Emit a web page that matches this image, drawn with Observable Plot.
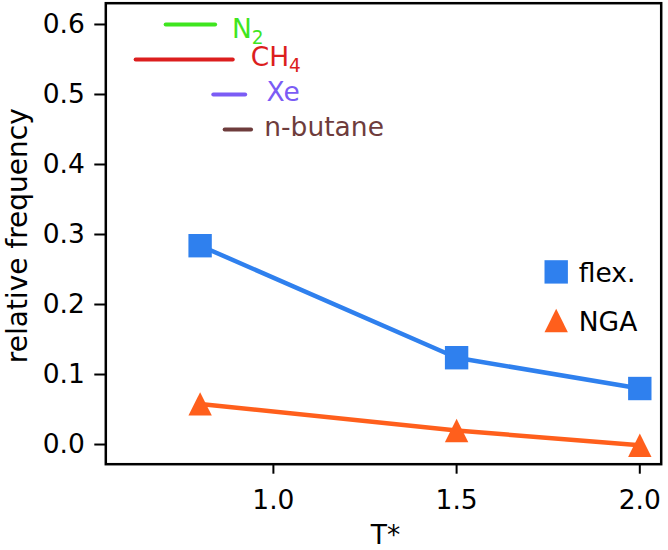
<!DOCTYPE html>
<html>
<head>
<meta charset="utf-8">
<script src="https://cdn.jsdelivr.net/npm/d3@7"></script>
<script src="https://cdn.jsdelivr.net/npm/@observablehq/plot@0.6"></script>
<style>
  body { margin: 0; background: #fff; }
</style>
</head>
<body>
<div id="chart"></div>
<script>
// ---- data ----
const temperatures = [0.8, 1.5, 2.0];
const flexValues = [0.284, 0.124, 0.080];
const ngaValues = [0.058, 0.020, -0.001];
const xTicks = [1.0, 1.5, 2.0];
const yTicks = [0.0, 0.1, 0.2, 0.3, 0.4, 0.5, 0.6];
const speciesNames = ["N₂", "CH₄", "Xe", "n-butane"];
const speciesStart = [0.706, 0.624, 0.836, 0.867];
const speciesEnd = [0.841, 0.889, 0.923, 0.939];
const speciesLevel = [0.60, 0.55, 0.50, 0.45];
const speciesLabelX = [0.887, 0.938, 0.981, 0.975];
const speciesLabelY = [0.593, 0.553, 0.503, 0.453];
const seriesNames = ["flex.", "NGA"];
const xLabel = "T*";
const yLabel = "relative frequency";

// ---- styles ----
const speciesColors = ["#3fe51f", "#dc1e1e", "#7b5cf5", "#6e3c3c"];
const flexColor = "#2f80ee";
const ngaColor = "#ff5f1c";
const markerR = 13.2;
const triangleUp = {
  draw(ctx, size) {
    const h = Math.sqrt(size) / 2;
    ctx.moveTo(0, -h);
    ctx.lineTo(h, h);
    ctx.lineTo(-h, h);
    ctx.closePath();
  }
};

const flexRows = temperatures.map((t, i) => ({t, v: flexValues[i]}));
const ngaRows = temperatures.map((t, i) => ({t, v: ngaValues[i]}));
const speciesRows = speciesNames.map((name, i) => ({
  name, x1: speciesStart[i], x2: speciesEnd[i], y: speciesLevel[i],
  lx: speciesLabelX[i], ly: speciesLabelY[i], color: speciesColors[i]
}));

const svg = Plot.plot({
  width: 668,
  height: 550,
  marginLeft: 105.3,
  marginRight: 7.3,
  marginTop: 2.7,
  marginBottom: 86.3,
  style: {fontFamily: "DejaVu Sans", fontSize: "26.5px", background: "white", color: "black"},
  x: {domain: [0.5426, 2.0584]},
  y: {domain: [-0.0281, 0.6304]},
  marks: [
    Plot.axisX({ticks: xTicks, tickFormat: d3.format(".1f"), tickSize: 10, tickPadding: 16, strokeWidth: 2,
      label: null}),
    Plot.axisY({ticks: yTicks, tickFormat: d3.format(".1f"), tickSize: 11, tickPadding: 10, strokeWidth: 2,
      label: null}),
    Plot.text([xLabel], {frameAnchor: "bottom", dx: 2, dy: 80, lineAnchor: "bottom", textAnchor: "middle", text: d => d, fill: "black", fontSize: 26.5}),
    Plot.text([yLabel], {frameAnchor: "left", dx: -88, dy: 2, rotate: -90, lineAnchor: "middle", textAnchor: "middle", text: d => d, fill: "black", fontSize: 28}),
    Plot.link(speciesRows, {x1: "x1", x2: "x2", y1: "y", y2: "y", stroke: d => d.color,
      strokeWidth: 4, strokeLinecap: "round"}),
    Plot.text(speciesRows, {x: "lx", y: "ly", text: "name", fill: d => d.color, textAnchor: "start", lineAnchor: "middle"}),
    Plot.line(flexRows, {x: "t", y: "v", stroke: flexColor, strokeWidth: 4.5}),
    Plot.line(ngaRows, {x: "t", y: "v", stroke: ngaColor, strokeWidth: 4.5}),
    Plot.dot(flexRows, {x: "t", y: "v", symbol: "square", r: markerR, fill: flexColor}),
    Plot.dot(ngaRows, {x: "t", y: "v", symbol: triangleUp, r: markerR, fill: ngaColor}),
    // legend
    Plot.dot([seriesNames[0]], {frameAnchor: "top-left", dx: 450.4, dy: 268.7, symbol: "square", r: markerR, fill: flexColor}),
    Plot.dot([seriesNames[1]], {frameAnchor: "top-left", dx: 450.4, dy: 317.3, symbol: triangleUp, r: markerR, fill: ngaColor}),
    Plot.text([seriesNames[0]], {frameAnchor: "top-left", dx: 473, dy: 270.8, text: d => d, textAnchor: "start", lineAnchor: "middle", fill: "black"}),
    Plot.text([seriesNames[1]], {frameAnchor: "top-left", dx: 473, dy: 319.5, text: d => d, textAnchor: "start", lineAnchor: "middle", fill: "black"}),
    Plot.frame({stroke: "black", strokeWidth: 2.5})
  ]
});

// render subscripts (N₂, CH₄) as smaller lowered digits
const ns = "http://www.w3.org/2000/svg";
const subMap = {"₀":"0","₁":"1","₂":"2","₃":"3","₄":"4","₅":"5","₆":"6","₇":"7","₈":"8","₉":"9"};
svg.querySelectorAll("text").forEach(t => {
  const s = t.textContent;
  const m = s.match(/^(.*?)([₀-₉]+)$/);
  if (!m || t.children.length) return;
  t.textContent = "";
  const a = document.createElementNS(ns, "tspan");
  a.textContent = m[1];
  const b = document.createElementNS(ns, "tspan");
  b.textContent = [...m[2]].map(c => subMap[c]).join("");
  b.setAttribute("font-size", "70%");
  b.setAttribute("dy", "6.5");
  t.append(a, b);
});

document.getElementById("chart").append(svg);
</script>
</body>
</html>
